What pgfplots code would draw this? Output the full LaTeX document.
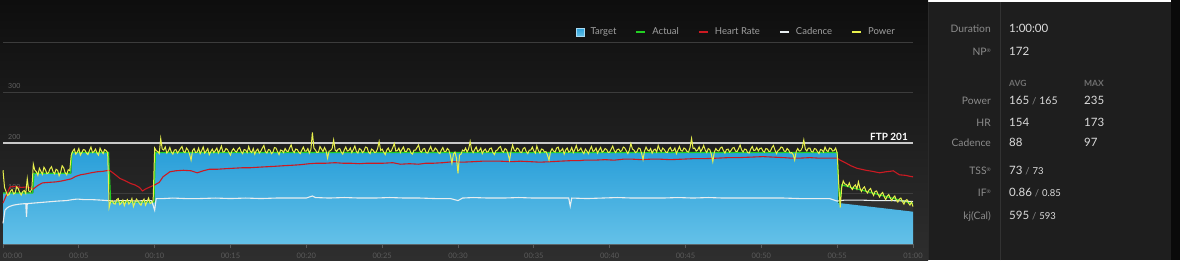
\documentclass[border=0pt]{standalone}
\usepackage{pgfplots}
\pgfplotsset{compat=1.18}
\usepackage{fontspec}
\setmainfont{Lato}
\definecolor{bgtop}{HTML}{0E0E0E}
\definecolor{bgbot}{HTML}{2E2E2E}
\definecolor{panel}{HTML}{1E1E1E}
\definecolor{paneledge}{HTML}{2A2A2A}
\definecolor{paneldiv}{HTML}{323232}
\definecolor{gridc}{HTML}{3C3C3C}
\definecolor{axisc}{HTML}{5A5A5A}
\definecolor{ftpc}{HTML}{C8C8C8}
\definecolor{bluetop}{HTML}{2A9FD9}
\definecolor{bluebot}{HTML}{64C1E8}
\definecolor{tgtedge}{HTML}{A8DAF2}
\definecolor{tgtfill}{HTML}{45AEE0}
\definecolor{greenc}{HTML}{22D022}
\definecolor{redc}{HTML}{CC1A22}
\definecolor{cadc}{HTML}{E8EEF0}
\definecolor{powc}{HTML}{E8F04C}
\definecolor{legtext}{HTML}{A0A0A0}
\definecolor{ylab}{HTML}{626262}
\definecolor{lab}{HTML}{8C8C8C}
\definecolor{val}{HTML}{DCDCDC}
\definecolor{hdr}{HTML}{707070}
\definecolor{wedge}{HTML}{303030}
\newcommand{\reg}{\raisebox{3.5pt}{\fontsize{5}{5}\selectfont ®}}
\newcommand{\lf}{\fontsize{10.3}{12}\selectfont}
\newcommand{\vf}{\fontsize{11.5}{13}\selectfont}
\newcommand{\smf}{\fontsize{9.5}{11}\selectfont}
\begin{document}
\begin{tikzpicture}
\begin{scope}[x=1pt,y=1pt]
\shade[top color=bgtop, bottom color=bgbot] (0,0) rectangle (928,260);
\fill[black!96] (1171,0) rectangle (1180,260);
\fill[panel] (928,0) rectangle (1171,258);
\draw[paneledge] (928.5,0) -- (928.5,258);
\draw[paneldiv, line width=0.8pt] (1000.5,0) -- (1000.5,258);
\begin{scope}[every node/.style={inner sep=0pt}]
\node[anchor=mid east, text=lab, font=\lf] at (991,230) {Duration};
\node[anchor=mid west, text=val, font=\vf] at (1009,230) {1:00:00};
\node[anchor=mid east, text=lab, font=\lf] at (991,207) {NP\reg};
\node[anchor=mid west, text=val, font=\vf] at (1009,207) {172};
\node[anchor=mid west, text=hdr, font=\fontsize{8.5}{10}\selectfont\bfseries] at (1009,176) {AVG};
\node[anchor=mid west, text=hdr, font=\fontsize{8.5}{10}\selectfont\bfseries] at (1084,176) {MAX};
\node[anchor=mid east, text=lab, font=\lf] at (991,158) {Power};
\node[anchor=mid west, text=val, font=\vf] at (1009,158) {165 {\color{lab}\smf/} {\fontsize{10.5}{12}\selectfont 165}};
\node[anchor=mid west, text=val, font=\vf] at (1084,158) {235};
\node[anchor=mid east, text=lab, font=\lf] at (991,136) {HR};
\node[anchor=mid west, text=val, font=\vf] at (1009,136) {154};
\node[anchor=mid west, text=val, font=\vf] at (1084,136) {173};
\node[anchor=mid east, text=lab, font=\lf] at (991,116) {Cadence};
\node[anchor=mid west, text=val, font=\vf] at (1009,116) {88};
\node[anchor=mid west, text=val, font=\vf] at (1084,116) {97};
\node[anchor=mid east, text=lab, font=\lf] at (991,88) {TSS\reg};
\node[anchor=mid west, text=val, font=\vf] at (1009,88) {73 {\color{lab}\smf/} {\smf 73}};
\node[anchor=mid east, text=lab, font=\lf] at (991,66) {IF\reg};
\node[anchor=mid west, text=val, font=\vf] at (1009,66) {0.86 {\color{lab}\smf/} {\smf 0.85}};
\node[anchor=mid east, text=lab, font=\lf] at (991,43) {kj(Cal)};
\node[anchor=mid west, text=val, font=\vf] at (1009,43) {595 {\color{lab}\smf/} {\smf 593}};
\end{scope}
\end{scope}
\begin{axis}[
  at={(3pt,16pt)}, anchor=south west,
  scale only axis, width=910pt, height=202pt,
  xmin=0, xmax=60, ymin=0, ymax=400,
  axis x line*=bottom, axis y line=none,
  x axis line style={-, draw=axisc, line width=1pt},
  xtick={0,5,...,60},
  xticklabels={,00:05,00:10,00:15,00:20,00:25,00:30,00:35,00:40,00:45,00:50,00:55,01:00},
  tick align=outside, major tick length=4pt,
  xtick style={draw=axisc, line width=0.8pt},
  xticklabel style={text=axisc, font=\fontsize{7.5}{8}\selectfont, inner sep=1pt, yshift=-4pt},
  /pgf/number format/assume math mode=true,
  clip=false,
  legend columns=5,
  legend cell align=left,
  legend style={at={(0.9824,1.0495)}, anchor=east, draw=none, fill=none,
    text=legtext, font=\fontsize{9.5}{11}\selectfont, inner sep=0pt,
    /tikz/every odd column/.append style={column sep=4pt},
    /tikz/every even column/.append style={column sep=17pt}},
]
\draw[gridc, line width=1pt] (axis cs:0,100) -- (axis cs:60,100);
\draw[gridc, line width=1pt] (axis cs:0,300) -- (axis cs:60,300);
\draw[gridc, line width=1pt] (axis cs:0,400) -- (axis cs:60,400);
\node[anchor=south west, text=ylab, font=\fontsize{7}{8}\selectfont, inner sep=0pt] at (axis cs:0,300) [xshift=5pt, yshift=3.5pt] {300};
\node[anchor=south west, text=ylab, font=\fontsize{7}{8}\selectfont, inner sep=0pt] at (axis cs:0,200) [xshift=5pt, yshift=3.5pt] {200};
\node[anchor=south west, text=ylab, font=\fontsize{7}{8}\selectfont, inner sep=0pt] at (axis cs:0,100) [xshift=5pt, yshift=3.5pt] {100};
\node[anchor=north west, text=axisc, font=\fontsize{7.5}{8}\selectfont, inner sep=0pt] at (axis cs:0,0) [yshift=-9pt] {00:00};
\addplot[forget plot, draw=none, fill=wedge] coordinates {(55.05,87) (60,84) (60,64) (55.05,81)} -- cycle;
% Target
\addplot[draw=none, top color=bluetop, bottom color=bluebot, area legend,
  legend image code/.code={\draw[fill=tgtfill, draw=tgtedge, line width=0.8pt] (0pt,-4pt) rectangle (8pt,4pt);}]
  coordinates {(0,0) (0,101) (2,101) (2,140) (4.5,140) (4.5,181) (7,181) (7,83) (10,83) (10,181) (55.05,181) (55.05,81) (55.3,80.5) (60,64) (60,0)} -- cycle;
\addlegendentry{Target}
\draw[ftpc, line width=1.8pt] (axis cs:0,200) -- (axis cs:60,200);
\node[anchor=south east, text=white, font=\fontsize{10}{12}\selectfont\bfseries, inner sep=0pt] at (axis cs:60,200) [xshift=-5pt, yshift=2.5pt] {FTP 201};
% Actual
\addplot[greenc, line width=1.2pt,
  legend image code/.code={\draw[line width=2pt] (0pt,0pt) -- (9pt,0pt);}]
  coordinates {(0,101) (1.95,101) (2.05,140) (4.45,140) (4.55,181) (6.95,181) (7.1,83) (9.95,83) (10.05,181) (55.0,181) (55.15,78) (55.3,117) (60,80)};
\addlegendentry{Actual}
% Heart rate
\addplot[redc, line width=1.1pt,
  legend image code/.code={\draw[line width=2pt] (0pt,0pt) -- (9pt,0pt);}]
  coordinates {(0,81) (0.2,95) (0.46,113) (0.8,114) (1.2,112) (1.6,113) (2.0,109) (2.3,116) (2.6,121) (3.0,122) (3.5,123) (3.9,125) (4.2,127) (4.5,129) (4.8,134) (5.1,137) (5.5,139) (5.8,141) (6.2,143) (6.6,144) (7.0,146) (7.2,142) (7.5,135) (7.7,130) (8.0,126) (8.4,120) (8.7,117) (9.0,112) (9.2,105) (9.4,109) (9.7,113) (10.0,117) (10.3,122) (10.55,133) (11.0,143) (11.4,145) (11.9,146) (12.4,145) (12.8,141) (13.2,145) (13.6,148) (14.1,148) (14.6,149) (15.2,150) (15.8,151) (16.3,151) (16.8,152) (17.4,153) (18.0,154) (18.5,155) (19.1,156) (19.6,157) (20.2,159) (20.7,160) (21.3,160) (21.9,161) (22.4,160) (22.9,160) (23.5,159) (24.0,160) (24.6,160) (25.1,160) (25.7,161) (26.2,158) (26.8,159) (27.4,158) (27.9,160) (28.4,160) (29.0,161) (29.7,163) (30.3,162) (31.0,163) (31.6,164) (32.2,164) (32.8,164) (33.5,163) (34.1,164) (34.8,163) (35.4,162) (36.1,163) (36.7,164) (37.4,165) (38.0,165) (38.3,166) (39.0,166) (39.7,167) (40.3,166) (40.9,168) (41.5,168) (42.1,167) (42.7,168) (43.3,168) (44.0,167) (44.8,168) (45.5,169) (46.2,169) (47.1,170) (47.8,171) (48.5,171) (49.3,172) (50.1,173) (50.8,172) (51.5,171) (52.0,170) (52.5,170) (53.2,171) (53.8,170) (54.5,170) (55.0,170) (55.2,166) (55.6,160) (55.9,155) (56.3,150) (56.6,148) (56.9,146) (57.3,144) (57.8,141) (58.2,143) (58.5,144) (58.7,145) (58.9,141) (59.1,137) (59.5,136) (59.8,134) (60,133)};
\addlegendentry{Heart Rate}
% Cadence
\addplot[cadc, line width=1.1pt,
  legend image code/.code={\draw[line width=2pt] (0pt,0pt) -- (9pt,0pt);}]
  coordinates {(0,41) (0.07,55) (0.13,67) (0.25,71) (0.4,74) (0.7,77) (1.1,79) (1.5,80) (1.55,54) (1.6,80) (2.0,81) (2.4,82) (2.8,83) (3.2,84) (3.6,85) (4.2,86) (4.6,88) (4.9,89) (5.3,88) (5.8,88) (6.4,87) (6.9,86) (7.3,85) (7.8,86) (8.3,86) (8.8,85) (9.3,86) (9.8,86) (10.0,67) (10.1,90) (10.6,90) (11.2,91) (12,90) (13,90) (14,91) (15,90) (16,91) (17,90) (18,91) (19,91) (20,91) (20.4,95) (20.6,92) (21.5,91) (22.5,92) (23.5,91) (24.5,91) (25.5,92) (26.5,91) (27.5,91) (28.5,90) (29.5,90) (30.0,86) (30.3,91) (31,92) (32,91) (33,91) (34,92) (35,91) (36,91) (37.3,91) (37.4,75) (37.5,91) (38.5,90) (39.5,91) (40.5,92) (41.5,91) (42.5,91) (43.5,91) (44.5,92) (45.5,91) (46.5,92) (47.5,91) (48.5,91) (49.5,91) (50.5,91) (51.5,91) (52.5,90) (53.5,90) (54.5,90) (55.0,85) (55.5,87) (56.5,87) (57.5,86) (58.5,86) (59.5,85) (60,84)};
\addlegendentry{Cadence}
% Power
\addplot[powc, line width=1pt,
  legend image code/.code={\draw[line width=2pt] (0pt,0pt) -- (9pt,0pt);}]
  coordinates {
  (0,146) (0.1,112) (0.2,104) (0.3,96) (0.4,98) (0.5,105) (0.6,108) (0.7,99) (0.8,101) (0.9,113) (1.0,110) (1.1,102) (1.2,97) (1.3,104) (1.4,106) (1.5,100) (1.6,129) (1.7,105) (1.8,103) (1.9,109)
  (2.0,158) (2.1,146) (2.2,143) (2.3,136) (2.4,150) (2.5,144) (2.6,138) (2.7,152) (2.8,147) (2.9,139) (3.0,141) (3.1,149) (3.2,153) (3.3,143) (3.4,139) (3.5,148) (3.6,146) (3.7,135) (3.8,142) (3.9,155) (4.0,151) (4.1,141) (4.2,137) (4.3,147) (4.4,145)
  (4.5,176) (4.6,184) (4.7,188) (4.8,178) (4.9,182) (5.0,189) (5.1,176) (5.2,181) (5.3,187) (5.4,186) (5.5,180) (5.6,177) (5.7,185) (5.8,192) (5.9,181) (6.0,183) (6.1,188) (6.2,180) (6.3,176) (6.4,190) (6.5,184) (6.6,179) (6.7,187) (6.8,185) (6.9,181)
  (7.0,72) (7.1,84) (7.2,86) (7.3,80) (7.4,79) (7.5,88) (7.6,90) (7.7,78) (7.8,81) (7.9,87) (8.0,76) (8.1,84) (8.2,88) (8.3,79) (8.4,83) (8.5,90) (8.6,74) (8.7,82) (8.8,89) (8.9,85) (9.0,80) (9.1,77) (9.2,85) (9.3,89) (9.4,77) (9.5,84) (9.6,91) (9.7,80) (9.8,82) (9.9,86)
  (10.0,190) (10.1,185) (10.2,183) (10.3,179) (10.4,209) (10.5,188) (10.6,186) (10.7,192) (10.8,180) (10.9,184) (11.0,191) (11.1,182) (11.2,178) (11.3,186) (11.4,187) (11.5,180) (11.6,184) (11.7,189) (11.8,193) (11.9,183)
  (12.0,181) (12.1,190) (12.2,186) (12.3,178) (12.4,166) (12.5,185) (12.6,189) (12.7,181) (12.8,182) (12.9,190) (13.0,179) (13.1,185) (13.2,192) (13.3,180) (13.4,184) (13.5,189) (13.6,177) (13.7,183) (13.8,188) (13.9,181)
  (14.0,185) (14.1,190) (14.2,180) (14.3,186) (14.4,194) (14.5,182) (14.6,183) (14.7,189) (14.8,187) (14.9,181) (15.0,176) (15.1,185) (15.2,189) (15.3,184) (15.4,182) (15.5,188) (15.6,191) (15.7,183) (15.8,179) (15.9,187)
  (16.0,186) (16.1,181) (16.2,193) (16.3,184) (16.4,181) (16.5,189) (16.6,178) (16.7,185) (16.8,188) (16.9,180) (17.0,184) (17.1,190) (17.2,195) (17.3,183) (17.4,180) (17.5,187) (17.6,186) (17.7,179) (17.8,182) (17.9,191)
  (18.0,190) (18.1,183) (18.2,177) (18.3,186) (18.4,185) (18.5,181) (18.6,189) (18.7,184) (18.8,183) (18.9,190) (19.0,196) (19.1,185) (19.2,181) (19.3,188) (19.4,187) (19.5,182) (19.6,179) (19.7,186) (19.8,192) (19.9,184)
  (20.0,184) (20.1,189) (20.2,180) (20.3,187) (20.4,221) (20.5,190) (20.6,186) (20.7,181) (20.8,182) (20.9,193) (21.0,188) (21.1,183) (21.2,191) (21.3,185) (21.4,170) (21.5,184) (21.6,185) (21.7,189) (21.8,206) (21.9,186)
  (22.0,183) (22.1,188) (22.2,189) (22.3,182) (22.4,178) (22.5,186) (22.6,192) (22.7,184) (22.8,185) (22.9,190) (23.0,181) (23.1,187) (23.2,194) (23.3,183) (23.4,180) (23.5,189) (23.6,187) (23.7,181) (23.8,184) (23.9,192)
  (24.0,191) (24.1,182) (24.2,179) (24.3,188) (24.4,186) (24.5,181) (24.6,182) (24.7,189) (24.8,203) (24.9,185) (25.0,188) (25.1,182) (25.2,177) (25.3,186) (25.4,190) (25.5,183) (25.6,184) (25.7,191) (25.8,199) (25.9,184)
  (26.0,185) (26.1,190) (26.2,181) (26.3,187) (26.4,192) (26.5,183) (26.6,183) (26.7,189) (26.8,188) (26.9,180) (27.0,178) (27.1,186) (27.2,186) (27.3,191) (27.4,196) (27.5,184) (27.6,182) (27.7,188) (27.8,189) (27.9,181)
  (28.0,180) (28.1,187) (28.2,193) (28.3,184) (28.4,184) (28.5,190) (28.6,187) (28.7,181) (28.8,179) (28.9,186) (29.0,191) (29.1,183) (29.2,183) (29.3,189) (29.4,186) (29.5,175) (29.6,160) (29.7,178) (29.8,182) (29.9,170)
  (30.0,140) (30.1,176) (30.2,178) (30.3,186) (30.4,184) (30.5,190) (30.6,182) (30.7,188) (30.8,203) (30.9,186) (31.0,181) (31.1,187) (31.2,192) (31.3,183) (31.4,185) (31.5,190) (31.6,179) (31.7,185) (31.8,188) (31.9,182)
  (32.0,183) (32.1,189) (32.2,190) (32.3,181) (32.4,177) (32.5,185) (32.6,186) (32.7,191) (32.8,193) (32.9,184) (33.0,182) (33.1,189) (33.2,187) (33.3,178) (33.4,166) (33.5,184) (33.6,196) (33.7,186) (33.8,184) (33.9,190)
  (34.0,188) (34.1,182) (34.2,181) (34.3,189) (34.4,191) (34.5,183) (34.6,179) (34.7,186) (34.8,186) (34.9,192) (35.0,184) (35.1,180) (35.2,194) (35.3,185) (35.4,180) (35.5,188) (35.6,187) (35.7,182) (35.8,183) (35.9,176)
  (36.0,166) (36.1,183) (36.2,189) (36.3,184) (36.4,182) (36.5,190) (36.6,192) (36.7,183) (36.8,185) (36.9,189) (37.0,178) (37.1,186) (37.2,190) (37.3,182) (37.4,184) (37.5,191) (37.6,181) (37.7,187) (37.8,195) (37.9,184)
  (38.0,186) (38.1,190) (38.2,183) (38.3,179) (38.4,188) (38.5,184) (38.6,179) (38.7,187) (38.8,193) (38.9,183) (39.0,185) (39.1,190) (39.2,180) (39.3,186) (39.4,191) (39.5,182) (39.6,184) (39.7,189) (39.8,187) (39.9,181)
  (40.0,182) (40.1,188) (40.2,194) (40.3,185) (40.4,181) (40.5,187) (40.6,188) (40.7,183) (40.8,185) (40.9,192) (41.0,190) (41.1,184) (41.2,179) (41.3,186) (41.4,199) (41.5,188) (41.6,186) (41.7,181) (41.8,183) (41.9,190)
  (42.0,189) (42.1,180) (42.2,167) (42.3,184) (42.4,192) (42.5,186) (42.6,184) (42.7,189) (42.8,180) (42.9,186) (43.0,188) (43.1,182) (43.2,195) (43.3,187) (43.4,183) (43.5,190) (43.6,187) (43.7,182) (43.8,181) (43.9,188)
  (44.0,191) (44.1,184) (44.2,185) (44.3,190) (44.4,179) (44.5,186) (44.6,193) (44.7,185) (44.8,184) (44.9,190) (45.0,188) (45.1,183) (45.2,182) (45.3,191) (45.4,209) (45.5,189) (45.6,190) (45.7,184) (45.8,186) (45.9,192)
  (46.0,183) (46.1,188) (46.2,195) (46.3,186) (46.4,181) (46.5,189) (46.6,187) (46.7,178) (46.8,163) (46.9,182) (47.0,189) (47.1,185) (47.2,184) (47.3,190) (47.4,192) (47.5,185) (47.6,180) (47.7,187) (47.8,188) (47.9,182)
  (48.0,185) (48.1,190) (48.2,191) (48.3,184) (48.4,183) (48.5,189) (48.6,196) (48.7,186) (48.8,182) (48.9,188) (49.0,187) (49.1,181) (49.2,180) (49.3,188) (49.4,193) (49.5,185) (49.6,186) (49.7,191) (49.8,184) (49.9,189)
  (50.0,190) (50.1,184) (50.2,182) (50.3,189) (50.4,188) (50.5,183) (50.6,184) (50.7,191) (50.8,195) (50.9,186) (51.0,179) (51.1,185) (51.2,187) (51.3,192) (51.4,191) (51.5,184) (51.6,183) (51.7,189) (51.8,186) (51.9,180)
  (52.0,181) (52.1,177) (52.2,166) (52.3,183) (52.4,189) (52.5,184) (52.6,185) (52.7,191) (52.8,206) (52.9,188) (53.0,184) (53.1,190) (53.2,190) (53.3,183) (53.4,182) (53.5,189) (53.6,188) (53.7,183) (53.8,179) (53.9,187)
  (54.0,186) (54.1,182) (54.2,192) (54.3,185) (54.4,183) (54.5,190) (54.6,189) (54.7,184) (54.8,185) (54.9,190) (55.0,180)
  (55.1,120) (55.2,72) (55.3,112) (55.4,125) (55.5,119) (55.6,118) (55.7,114) (55.8,121) (55.9,112) (56.0,108) (56.1,114) (56.2,117) (56.3,109) (56.4,123) (56.5,111) (56.6,104) (56.7,110) (56.8,113) (56.9,105) (57.0,101)
  (57.1,107) (57.2,110) (57.3,102) (57.4,96) (57.5,104) (57.6,105) (57.7,98) (57.8,93) (57.9,99) (58.0,102) (58.1,94) (58.2,88) (58.3,95) (58.4,98) (58.5,91) (58.6,86) (58.7,92) (58.8,95) (58.9,87) (59.0,83)
  (59.1,89) (59.2,91) (59.3,84) (59.4,79) (59.5,86) (59.6,88) (59.7,81) (59.8,77) (59.9,83) (60.0,74)};
\addlegendentry{Power}
\end{axis}
\pgfresetboundingbox
\path[use as bounding box] (0pt,0pt) rectangle (1180pt,260pt);
\end{tikzpicture}
\end{document}
